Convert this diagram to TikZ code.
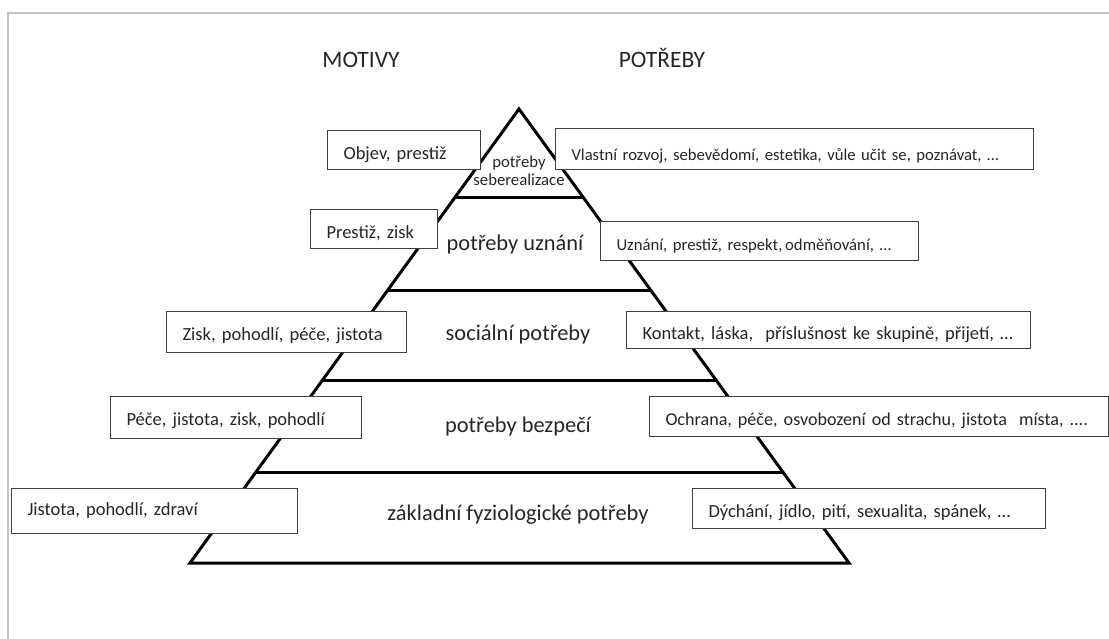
\documentclass[tikz,border=0pt]{standalone}
\usepackage{fontspec}
\setmainfont{Carlito}
\usetikzlibrary{calc}
\definecolor{boxline}{HTML}{404040}
\definecolor{framegray}{HTML}{C4C4C4}
\definecolor{ink}{HTML}{262626}
\tikzset{
  motive/.style={draw=boxline, fill=white, line width=1pt, anchor=north west,
    inner xsep=16pt, inner ysep=0pt, text height=29pt, align=left, text=ink,
    font=\fontsize{#1}{20}\selectfont},
  motive/.default=18.5,
  level/.style={text=ink, font=\fontsize{22.4}{26}\selectfont},
  heading/.style={text=ink, anchor=base, font=\fontsize{23.5}{27}\selectfont},
}
\begin{document}
\begin{tikzpicture}[x=1pt,y=-1pt]
\useasboundingbox (0,0) rectangle (1109,639);
% frame
\draw[framegray, line width=2pt] (8,639) -- (8,13) -- (1109,13);
% headings
\node[heading] (motivy) at (361,68) {MOTIVY};
\node[heading] (potreby) at (662,68) {POTŘEBY};
% pyramid
\coordinate (apex) at (519,109);
\coordinate (bl) at (190,563);
\coordinate (br) at (849,563);
\draw[line width=3pt, line join=miter] (apex) -- (br) -- (bl) -- cycle;
\foreach \t in {0.196,0.399,0.597,0.8}
  \draw[line width=3pt] ($(apex)!\t!(bl)$) -- ($(apex)!\t!(br)$);
% levels
\node[text=ink, align=center, font=\fontsize{16.7}{18}\selectfont] (seber) at (519,171) {potřeby\\seberealizace};
\node[level] (uznani) at (515,245) {potřeby uznání};
\node[level] (social) at (518,335) {sociální potřeby};
\node[level] (bezpeci) at (518,427) {potřeby bezpečí};
\node[level] (zaklad) at (518,515) {základní fyziologické potřeby};
% motives
\node[motive, text width=121pt, text depth=10pt] (m1) at (327,130) {Objev, prestiž};
\node[motive, text width=95pt, text depth=10pt] (m2) at (310,209) {Prestiž, zisk};
\node[motive, text width=208pt, text depth=12pt] (m3) at (166,311) {Zisk, pohodlí, péče, jistota};
\node[motive, text width=219pt, text depth=13pt] (m4) at (110,396) {Péče, jistota, zisk, pohodlí};
\node[motive, text width=254pt, text height=27pt, text depth=18pt] (m5) at (11,488) {Jistota, pohodlí, zdraví};
% needs
\node[motive=16.65, text width=446pt, text height=32pt, text depth=9pt] (n1) at (555,128) {Vlastní rozvoj, sebevědomí, estetika, vůle učit se, poznávat, …};
\node[motive=16.7, text width=286pt, text depth=10pt] (n2) at (600,221) {Uznání, prestiž, respekt,\,odměňování, …};
\node[motive, text width=372pt, text height=28pt, text depth=9pt] (n3) at (626,311) {Kontakt, láska,~ příslušnost ke skupině, přijetí, …};
\node[motive=18.1, text width=427pt, text depth=11pt] (n4) at (649,396) {Ochrana, péče, osvobození od strachu, jistota~ místa, ....};
\node[motive, text width=321pt, text depth=11pt] (n5) at (692,488) {Dýchání, jídlo, pití, sexualita, spánek, …};
\end{tikzpicture}
\end{document}
